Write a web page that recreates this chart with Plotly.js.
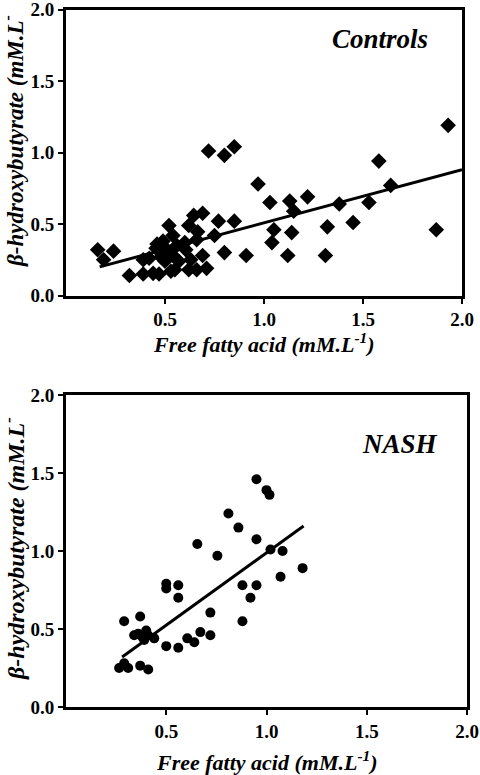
<!DOCTYPE html>
<html>
<head>
<meta charset="utf-8">
<script src="https://cdn.plot.ly/plotly-3.0.1.min.js"></script>
<style>html,body{margin:0;padding:0;background:#fff;}#chart{width:480px;height:775px;}</style>
</head>
<body>
<div id="chart"></div>
<script>
// ---- Data: Controls ----
const controlsX = [1.93,0.72,0.80,0.85,1.58,0.97,1.64,1.03,1.13,1.22,1.15,1.38,1.53,1.45,1.32,1.87,1.05,1.14,1.04,1.31,1.12,0.91,0.80,0.85,0.77,0.75,0.69,0.69,0.71,
  0.16,0.24,0.19,0.32,0.39,0.44,0.47,0.53,0.55,0.62,0.66,0.39,0.42,0.48,0.455,0.46,0.49,0.52,0.54,0.51,0.50,0.54,0.56,0.57,0.645,0.62,0.665,0.605,0.66,0.63,0.60];
const controlsY = [1.19,1.01,0.98,1.04,0.94,0.78,0.77,0.65,0.66,0.69,0.59,0.64,0.65,0.51,0.48,0.46,0.46,0.44,0.37,0.28,0.28,0.28,0.30,0.52,0.52,0.42,0.575,0.28,0.19,
  0.32,0.31,0.25,0.14,0.15,0.155,0.15,0.17,0.18,0.18,0.18,0.25,0.26,0.27,0.33,0.36,0.38,0.49,0.42,0.32,0.24,0.28,0.35,0.24,0.56,0.49,0.445,0.32,0.39,0.25,0.37];
const controlsFitX = [0.17, 2.0];
const controlsFitY = [0.20, 0.88];

// ---- Data: NASH ----
const nashX = [0.95,1.00,1.015,0.81,0.86,0.95,0.655,0.755,1.02,1.08,1.18,1.07,0.88,0.95,0.92,0.88,0.50,0.50,0.56,0.56,0.72,0.67,0.72,0.605,0.64,0.50,0.56,
  0.29,0.37,0.34,0.36,0.40,0.41,0.39,0.44,0.38,0.265,0.29,0.31,0.37,0.41];
const nashY = [1.46,1.39,1.36,1.24,1.15,1.075,1.045,0.97,1.01,1.00,0.89,0.835,0.78,0.78,0.70,0.55,0.79,0.76,0.78,0.70,0.605,0.48,0.46,0.44,0.415,0.39,0.38,
  0.55,0.58,0.46,0.47,0.49,0.46,0.43,0.44,0.45,0.25,0.28,0.25,0.265,0.24];
const nashFitX = [0.28, 1.185];
const nashFitY = [0.32, 1.16];

// ---- Axis ticks & labels ----
const xTickVals = [0.5, 1.0, 1.5, 2.0];
const xTickText = ["0.5", "1.0", "1.5", "2.0"];
const yTickVals = [0, 0.5, 1.0, 1.5, 2.0];
const yTickText = ["0.0", "0.5", "1.0", "1.5", "2.0"];
const xTitle = "<b><i>Free fatty acid (mM.L<sup>-1</sup>)</i></b>";
const yTitle = "<b><i>β-hydroxybutyrate (mM.L<sup>-</sup></i></b>";
const panelLabels = ["Controls", "NASH"];

const W = 480, H = 775;
const SERIF = "Liberation Serif, Times New Roman, Times, serif";

const traces = [
  {x: controlsX, y: controlsY, type: 'scatter', mode: 'markers', xaxis: 'x', yaxis: 'y',
   marker: {symbol: 'diamond', size: 12, color: '#000'}},
  {x: controlsFitX, y: controlsFitY, type: 'scatter', mode: 'lines', xaxis: 'x', yaxis: 'y',
   line: {color: '#000', width: 3}},
  {x: nashX, y: nashY, type: 'scatter', mode: 'markers', xaxis: 'x2', yaxis: 'y2',
   marker: {symbol: 'circle', size: 10, color: '#000'}},
  {x: nashFitX, y: nashFitY, type: 'scatter', mode: 'lines', xaxis: 'x2', yaxis: 'y2',
   line: {color: '#000', width: 3}}
];

function xAxis(domain, anchor) {
  return {
    domain: domain, anchor: anchor, range: [0, 2],
    tickvals: xTickVals, ticktext: xTickText,
    tickfont: {family: SERIF, size: 19, color: '#000', weight: 'bold'},
    ticks: 'outside', ticklen: 5, tickwidth: 2, tickcolor: '#000',
    ticklabeloverflow: 'allow',
    showline: true, mirror: true, linewidth: 3, linecolor: '#000',
    showgrid: false, zeroline: false, automargin: false
  };
}
function yAxis(domain, anchor) {
  return {
    domain: domain, anchor: anchor, range: [0, 2],
    tickvals: yTickVals, ticktext: yTickText,
    tickfont: {family: SERIF, size: 19, color: '#000', weight: 'bold'},
    ticks: 'outside', ticklen: 5, tickwidth: 2, tickcolor: '#000',
    ticklabeloverflow: 'allow',
    showline: true, mirror: true, linewidth: 3, linecolor: '#000',
    showgrid: false, zeroline: false, automargin: false
  };
}

const layout = {
  width: W, height: H,
  margin: {l: 0, r: 0, t: 0, b: 0},
  paper_bgcolor: '#fff', plot_bgcolor: '#fff',
  showlegend: false,
  font: {family: SERIF, color: '#000'},
  xaxis: xAxis([66/W, 462/W], 'y'),
  yaxis: yAxis([(H - 295.5)/H, (H - 9.5)/H], 'x'),
  xaxis2: xAxis([66/W, 467/W], 'y2'),
  yaxis2: yAxis([(H - 707)/H, (H - 395)/H], 'x2'),
  annotations: [
    // panel labels
    {text: '<b><i>' + panelLabels[0] + '</i></b>', xref: 'x', yref: 'y', x: 1.585, y: 1.795,
     showarrow: false, font: {family: SERIF, size: 27, color: '#000'}},
    {text: '<b><i>' + panelLabels[1] + '</i></b>', xref: 'x2', yref: 'y2', x: 1.665, y: 1.685,
     showarrow: false, font: {family: SERIF, size: 27, color: '#000'}},
    // x-axis titles
    {text: xTitle, xref: 'x domain', yref: 'paper', x: 0.5, y: (H - 343)/H,
     xanchor: 'center', yanchor: 'middle', showarrow: false,
     font: {family: SERIF, size: 22, color: '#000'}},
    {text: xTitle, xref: 'x2 domain', yref: 'paper', x: 0.5, y: (H - 761)/H,
     xanchor: 'center', yanchor: 'middle', showarrow: false,
     font: {family: SERIF, size: 22, color: '#000'}},
    // y-axis titles
    {text: yTitle, xref: 'paper', yref: 'paper', x: 14/W, y: (H - 141)/H, textangle: -90,
     xanchor: 'center', yanchor: 'middle', showarrow: false,
     font: {family: SERIF, size: 23, color: '#000'}},
    {text: yTitle, xref: 'paper', yref: 'paper', x: 14/W, y: (H - 549)/H, textangle: -90,
     xanchor: 'center', yanchor: 'middle', showarrow: false,
     font: {family: SERIF, size: 24, color: '#000'}}
  ]
};

Plotly.newPlot('chart', traces, layout, {displayModeBar: false, staticPlot: true});
</script>
</body>
</html>
